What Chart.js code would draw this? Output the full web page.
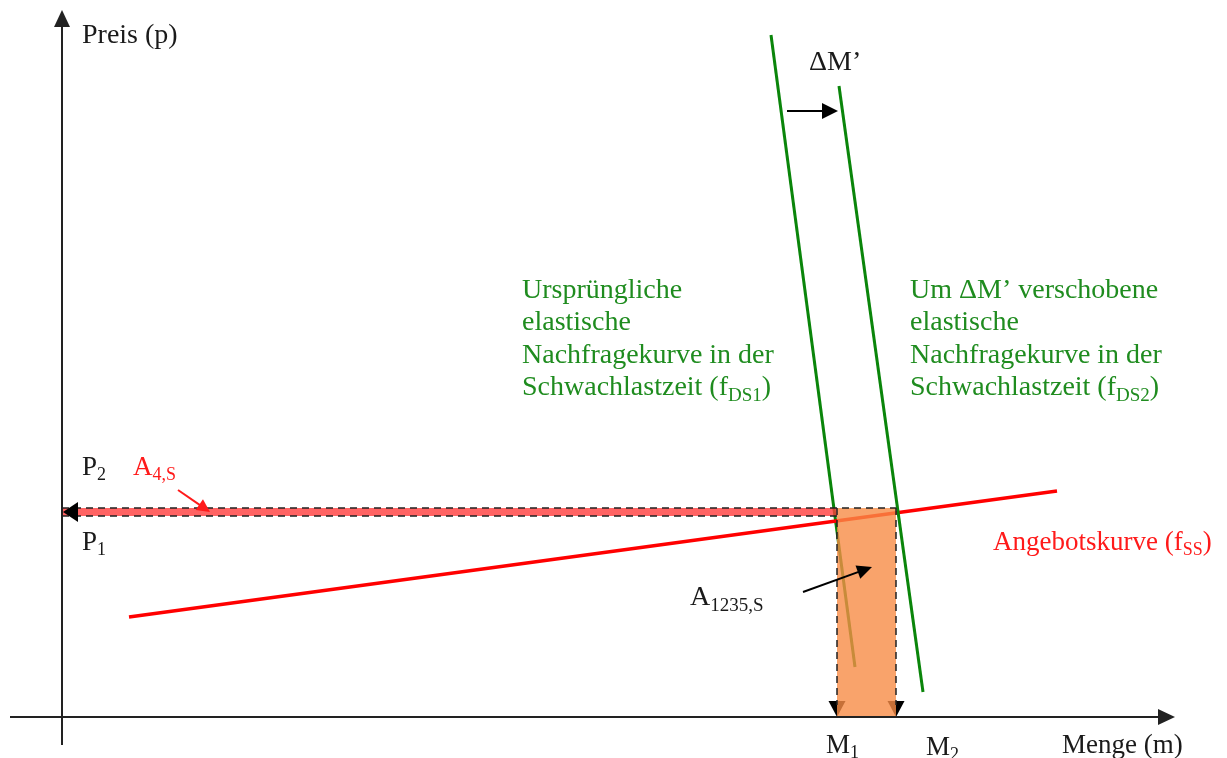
<!DOCTYPE html>
<html>
<head>
<meta charset="utf-8">
<script src="https://cdn.jsdelivr.net/npm/chart.js@4/dist/chart.umd.min.js"></script>
<style>
  html, body { margin: 0; padding: 0; background: #fff; }
  canvas { display: block; }
</style>
</head>
<body>
<canvas id="diagramm" width="1227" height="758"></canvas>
<script>
// Wertebereich der Achsen (Modelleinheiten)
const mengeRange = [-6.2, 116.5];
const preisRange = [-4.1, 71.7];

// Angebotskurve (f_SS)
const supplyM = [6.7, 99.5];
const supplyP = [10.0, 22.6];

// urspruengliche Nachfragekurve (f_DS1)
const demand1M = [70.9, 79.3];
const demand1P = [68.2, 5.0];

// um dM' verschobene Nachfragekurve (f_DS2)
const demand2M = [77.7, 86.1];
const demand2P = [63.1, 2.5];

// Preise P1, P2 und Mengen M1, M2
const priceLabels = ['1', '2'];
const priceValues = [20.1, 20.9];
const quantityLabels = ['1', '2'];
const quantityValues = [77.5, 83.4];

// Beschriftungen der Nachfragekurven
const demand1Text = ['Ursprüngliche', 'elastische', 'Nachfragekurve in der', 'Schwachlastzeit (f'];
const demand2Text = ['Um ΔM’ verschobene', 'elastische', 'Nachfragekurve in der', 'Schwachlastzeit (f'];

const [P1, P2] = priceValues;
const [M1, M2] = quantityValues;

const pts = (xs, ys) => xs.map((x, i) => ({ x: x, y: ys[i] }));

const FONT = '"Liberation Serif", "Times New Roman", serif';
const BLACK = '#1a1a1a';
const GREEN = '#1f8c1f';
const RED = '#ff1a1a';

// Text mit Tiefstellung zeichnen
function drawRich(ctx, x, y, parts, size, color) {
    ctx.fillStyle = color;
    ctx.textBaseline = 'alphabetic';
    ctx.textAlign = 'left';
    let cx = x;
    parts.forEach(p => {
        const sub = p[1] === 'sub';
        const s = sub ? Math.round(size * 0.68) : size;
        ctx.font = s + 'px ' + FONT;
        ctx.fillText(p[0], cx, sub ? y + size * 0.2 : y);
        cx += ctx.measureText(p[0]).width;
    });
}

// Pfeilspitze (und optional Schaft)
function arrow(ctx, x1, y1, x2, y2, color, width, len, half, shaft) {
    const a = Math.atan2(y2 - y1, x2 - x1);
    ctx.save();
    ctx.strokeStyle = color;
    ctx.fillStyle = color;
    ctx.lineWidth = width;
    if (shaft) {
        ctx.beginPath();
        ctx.moveTo(x1, y1);
        ctx.lineTo(x2 - Math.cos(a) * len * 0.8, y2 - Math.sin(a) * len * 0.8);
        ctx.stroke();
    }
    ctx.beginPath();
    ctx.moveTo(x2, y2);
    ctx.lineTo(x2 - Math.cos(a) * len - Math.sin(a) * half, y2 - Math.sin(a) * len + Math.cos(a) * half);
    ctx.lineTo(x2 - Math.cos(a) * len + Math.sin(a) * half, y2 - Math.sin(a) * len - Math.cos(a) * half);
    ctx.closePath();
    ctx.fill();
    ctx.restore();
}

const annotations = {
    id: 'annotations',
    beforeDatasetsDraw(chart) {
        const ctx = chart.ctx;
        const X = v => chart.scales.x.getPixelForValue(v);
        const Y = v => chart.scales.y.getPixelForValue(v);
        // Pfeile nach unten zu M1 / M2 (liegen unter der Flaeche)
        quantityValues.forEach(m => {
            arrow(ctx, X(m), Y(P2), X(m), Y(0), '#000', 1.5, 16, 8.5, false);
        });
    },
    afterDatasetsDraw(chart) {
        const ctx = chart.ctx;
        const X = v => chart.scales.x.getPixelForValue(v);
        const Y = v => chart.scales.y.getPixelForValue(v);

        // Achsenpfeile
        arrow(ctx, X(0), Y(0), X(0), Y(70.7), '#222', 2, 17, 8, false);
        arrow(ctx, X(0), Y(0), X(111.3), Y(0), '#222', 2, 17, 8, false);
        // Pfeil nach links zur Preisachse
        arrow(ctx, X(5), Y((P1 + P2) / 2), X(0.1), Y((P1 + P2) / 2), '#000', 1.5, 15, 10, false);

        // Verschiebung dM'
        arrow(ctx, X(72.5), Y(60.6), X(77.6), Y(60.6), '#000', 2, 16, 8, true);
        // A4,S
        arrow(ctx, X(11.6), Y(22.7), X(14.8), Y(20.5), RED, 2, 13, 6.5, true);
        // A1235,S
        arrow(ctx, X(74.1), Y(12.5), X(81.0), Y(15.0), '#000', 2, 15, 7, true);

        const size = 27;
        drawRich(ctx, X(2.0), Y(67.4), [['Preis (p)']], 28, BLACK);
        drawRich(ctx, X(2.0), Y(24.2), [['P'], [priceLabels[1], 'sub']], size, BLACK);
        drawRich(ctx, X(2.0), Y(16.7), [['P'], [priceLabels[0], 'sub']], size, BLACK);
        drawRich(ctx, X(7.1), Y(24.2), [['A'], ['4,S', 'sub']], size, RED);
        drawRich(ctx, X(74.7), Y(64.7), [['ΔM’']], 28, BLACK);

        const lineY = [41.9, 38.7, 35.4, 32.2];
        demand1Text.forEach((t, i) => {
            const parts = i === 3 ? [[t], ['DS1', 'sub'], [')']] : [[t]];
            drawRich(ctx, X(46.0), Y(lineY[i]), parts, 28, GREEN);
        });
        demand2Text.forEach((t, i) => {
            const parts = i === 3 ? [[t], ['DS2', 'sub'], [')']] : [[t]];
            drawRich(ctx, X(84.8), Y(lineY[i]), parts, 28, GREEN);
        });

        drawRich(ctx, X(93.1), Y(16.7), [['Angebotskurve (f'], ['SS', 'sub'], [')']], size, RED);
        drawRich(ctx, X(62.8), Y(11.2), [['A'], ['1235,S', 'sub']], 28, BLACK);

        drawRich(ctx, X(76.4), Y(-3.6), [['M'], [quantityLabels[0], 'sub']], size, BLACK);
        drawRich(ctx, X(86.4), Y(-3.8), [['M'], [quantityLabels[1], 'sub']], size, BLACK);
        drawRich(ctx, X(100.0), Y(-3.6), [['Menge (m)']], size, BLACK);
    }
};

const dash = [7, 5];

new Chart(document.getElementById('diagramm'), {
    type: 'scatter',
    data: {
        datasets: [
            // Achsen
            { data: pts([0, 0], [-2.8, 70]), borderColor: '#222', borderWidth: 2, order: 1 },
            { data: pts([-5.2, 110], [0, 0]), borderColor: '#222', borderWidth: 2, order: 1 },
            // Flaeche A4,S zwischen P1 und P2
            { data: pts([0, M1], [P2, P2]), borderWidth: 0, borderColor: 'rgba(0,0,0,0)',
              backgroundColor: 'rgba(255,60,60,0.8)', fill: '+1', order: 6 },
            { data: pts([0, M1], [P1, P1]), borderWidth: 0, borderColor: 'rgba(0,0,0,0)', order: 7 },
            // Nachfragekurve 1 (unter der Flaeche)
            { data: pts(demand1M, demand1P), borderColor: '#0a850a', borderWidth: 3, order: 9 },
            // Angebotskurve
            { data: pts(supplyM, supplyP), borderColor: '#ff0000', borderWidth: 3.5, order: 8 },
            // Flaeche A1235,S
            { data: pts([M1, M1, M2, M2], [0, P2, P2, 0]), borderWidth: 0, borderColor: 'rgba(0,0,0,0)',
              backgroundColor: 'rgba(247,140,70,0.8)', fill: 'origin', order: 5 },
            // Nachfragekurve 2
            { data: pts(demand2M, demand2P), borderColor: '#0a850a', borderWidth: 3, order: 4 },
            // gestrichelte Hilfslinien
            { data: pts([0, M2], [P2, P2]), borderColor: '#222', borderWidth: 1.5, borderDash: dash, order: 2 },
            { data: pts([0, M1], [P1, P1]), borderColor: '#222', borderWidth: 1.5, borderDash: dash, order: 2 },
            { data: pts([M1, M1], [P2, 1.2]), borderColor: '#222', borderWidth: 1.5, borderDash: dash, order: 2 },
            { data: pts([M2, M2], [P2, 1.2]), borderColor: '#222', borderWidth: 1.5, borderDash: dash, order: 2 }
        ].map(d => Object.assign({ showLine: true, pointRadius: 0, fill: false }, d))
    },
    options: {
        responsive: false,
        animation: false,
        devicePixelRatio: 1,
        layout: { padding: 0 },
        plugins: { legend: { display: false }, tooltip: { enabled: false } },
        scales: {
            x: { type: 'linear', min: mengeRange[0], max: mengeRange[1], display: false },
            y: { type: 'linear', min: preisRange[0], max: preisRange[1], display: false }
        }
    },
    plugins: [annotations]
});
</script>
</body>
</html>
